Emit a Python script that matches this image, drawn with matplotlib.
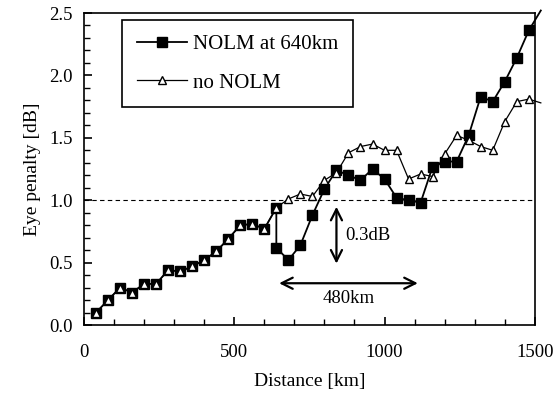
import numpy as np
import matplotlib.pyplot as plt
from matplotlib.ticker import MultipleLocator

plt.rcParams["font.family"] = ["Liberation Serif", "DejaVu Serif"]

# shared part of both curves (0-600 km)
dist_common = [40, 80, 120, 160, 200, 240, 280, 320, 360, 400, 440, 480, 520, 560, 600, 640]
pen_common = [0.10, 0.20, 0.30, 0.26, 0.33, 0.33, 0.44, 0.43, 0.47, 0.52, 0.59, 0.69, 0.80, 0.81, 0.77, 0.94]

# NOLM inserted at 640 km
dist_nolm = [640, 680, 720, 760, 800, 840, 880, 920, 960, 1000, 1040, 1080, 1120,
             1160, 1200, 1240, 1280, 1320, 1360, 1400, 1440, 1480]
pen_nolm = [0.62, 0.52, 0.64, 0.88, 1.09, 1.24, 1.20, 1.16, 1.25, 1.17, 1.02, 1.00, 0.98,
            1.27, 1.31, 1.31, 1.52, 1.83, 1.79, 1.95, 2.14, 2.36]

# without NOLM
dist_no = [680, 720, 760, 800, 840, 880, 920, 960, 1000, 1040, 1080, 1120,
           1160, 1200, 1240, 1280, 1320, 1360, 1400, 1440, 1480]
pen_no = [1.01, 1.05, 1.03, 1.16, 1.22, 1.38, 1.43, 1.45, 1.40, 1.40, 1.17, 1.21,
          1.19, 1.37, 1.52, 1.48, 1.43, 1.40, 1.63, 1.79, 1.81]

# lines run a little past the right edge
tail_nolm = (1520, 2.52)
tail_no = (1520, 1.78)

x_nolm = dist_common + dist_nolm + [tail_nolm[0]]
y_nolm = pen_common + pen_nolm + [tail_nolm[1]]
x_no = dist_common + dist_no + [tail_no[0]]
y_no = pen_common + pen_no + [tail_no[1]]

fig = plt.figure(figsize=(5.6, 3.94), dpi=100)
ax = fig.add_axes([0.15, 0.175, 0.805, 0.792])

ax.axhline(1.0, color="black", lw=0.8, ls=(0, (4, 3)), zorder=1)

ax.plot(x_nolm, y_nolm, color="black", lw=1.3, marker="s", ms=7.5, mfc="black", mec="black",
        markevery=slice(0, len(x_nolm) - 1), clip_on=False, zorder=3, label="NOLM at 640km")
ax.plot(x_no, y_no, color="black", lw=0.9, marker="^", ms=6, mfc="white", mec="black", mew=1.0,
        markevery=slice(0, len(x_no) - 1), clip_on=False, zorder=4, label="no NOLM")

# annotations
ax.annotate("", xy=(840, 0.47), xytext=(840, 0.97),
            arrowprops=dict(arrowstyle="<->", lw=1.6, color="black", mutation_scale=20))
ax.text(868, 0.72, "0.3dB", fontsize=13.5, va="center", ha="left")
ax.annotate("", xy=(640, 0.335), xytext=(1120, 0.335),
            arrowprops=dict(arrowstyle="<->", lw=1.6, color="black", mutation_scale=20))
ax.text(880, 0.215, "480km", fontsize=13.5, va="center", ha="center")

ax.set_xlim(0, 1500)
ax.set_ylim(0, 2.5)
ax.xaxis.set_major_locator(MultipleLocator(500))
ax.xaxis.set_minor_locator(MultipleLocator(100))
ax.yaxis.set_major_locator(MultipleLocator(0.5))
ax.yaxis.set_minor_locator(MultipleLocator(0.1))
ax.yaxis.set_major_formatter(plt.FuncFormatter(lambda v, p: f"{v:.1f}"))
ax.tick_params(which="both", direction="in", top=False, right=False, labelsize=13.5)
ax.tick_params(which="major", length=6, width=1.2)
ax.tick_params(which="minor", length=4, width=1.0)
ax.tick_params(axis="x", pad=14)
ax.tick_params(axis="y", pad=8)
for s in ax.spines.values():
    s.set_linewidth(1.2)

ax.set_xlabel("Distance [km]", fontsize=14, labelpad=8)
ax.set_ylabel("Eye penalty [dB]", fontsize=14, labelpad=6)

leg = ax.legend(loc="upper left", bbox_to_anchor=(0.075, 0.99), fontsize=15, frameon=True,
                fancybox=False, edgecolor="black", framealpha=1, handlelength=2.4,
                borderpad=0.7, labelspacing=0.9, handletextpad=0.3, borderaxespad=0.2)
leg.get_frame().set_linewidth(1.2)

fig.savefig("out.png", dpi=100)
